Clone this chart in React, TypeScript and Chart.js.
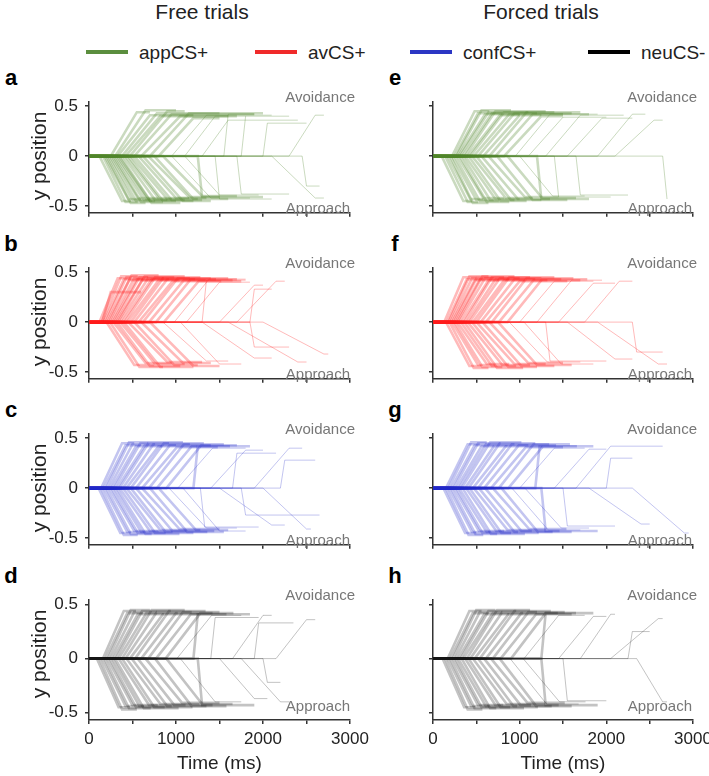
import { useEffect, useRef } from "react";
import { Chart, registerables } from "chart.js";

Chart.register(...registerables);

// one mouse trajectory: [start of movement (ms), arrival (ms), final y position, end of trial (ms)]
type Trial = [number, number, number, number];

const timeTicks = [0, 500, 1000, 1500, 2000, 2500, 3000];
const timeLabels = ["0", "", "1000", "", "2000", "", "3000"];
const posTicks = [-0.5, 0, 0.5];
const posLabels = ["-0.5", "0", "0.5"];

const conditionNames = ["appCS+", "avCS+", "confCS+", "neuCS-"];
const legendColors = ["#5b8e3e", "#f02a2a", "#2b36c4", "#000000"];
const traceColors = [
  "rgba(78,132,42,0.3)",
  "rgba(255,28,28,0.3)",
  "rgba(32,42,200,0.27)",
  "rgba(25,25,25,0.26)",
];
const columnTitles = ["Free trials", "Forced trials"];
const panelLetters = [
  ["a", "b", "c", "d"],
  ["e", "f", "g", "h"],
];

// ---- free trials ----
const freeAppUp: Trial[] = [
  [250, 550, 0.44, 700], [300, 650, 0.46, 1000], [330, 700, 0.41, 1200], [380, 780, 0.43, 1500],
  [420, 820, 0.4, 1700], [470, 900, 0.45, 1100], [520, 950, 0.42, 1900], [600, 1050, 0.4, 1600],
  [700, 1150, 0.43, 2000], [800, 1200, 0.38, 1500], [950, 1350, 0.41, 2100], [1100, 1450, 0.4, 1800],
  [1300, 1600, 0.36, 2400], [1550, 1600, 0.42, 1900], [1750, 1800, 0.4, 2300], [2000, 2050, 0.33, 2500],
  [2300, 2600, 0.41, 2700],
];
const freeAppDown: Trial[] = [
  [120, 380, -0.45, 480], [160, 420, -0.46, 560], [180, 450, -0.43, 600], [200, 480, -0.47, 650],
  [220, 500, -0.44, 700], [240, 540, -0.45, 760], [260, 560, -0.42, 800], [280, 600, -0.46, 850],
  [300, 630, -0.44, 900], [320, 660, -0.43, 950], [340, 700, -0.45, 1000], [360, 720, -0.47, 1050],
  [390, 760, -0.44, 1100], [420, 800, -0.42, 1150], [450, 850, -0.45, 1200], [480, 900, -0.43, 1250],
  [520, 950, -0.44, 1300], [570, 1000, -0.42, 1350], [620, 1080, -0.45, 1400], [680, 1150, -0.41, 1500],
  [750, 1200, -0.43, 1600], [850, 1300, -0.4, 1700], [950, 1400, -0.42, 1850], [1100, 1500, -0.39, 1950],
  [1250, 1300, -0.41, 2000], [1450, 1500, -0.43, 2100], [1700, 1750, -0.38, 2300], [2100, 2600, -0.42, 2700],
  [2450, 2500, -0.3, 2650],
];
const freeAvUp: Trial[] = [
  [120, 330, 0.44, 480], [150, 370, 0.46, 560], [170, 400, 0.43, 620], [190, 430, 0.45, 680],
  [210, 460, 0.42, 740], [230, 490, 0.47, 800], [250, 520, 0.44, 860], [270, 550, 0.43, 920],
  [290, 580, 0.45, 980], [310, 610, 0.42, 1040], [330, 640, 0.46, 1100], [350, 680, 0.44, 1160],
  [380, 720, 0.43, 1220], [410, 760, 0.45, 1280], [440, 800, 0.42, 1340], [480, 850, 0.44, 1400],
  [520, 900, 0.43, 1460], [570, 960, 0.41, 1520], [620, 1020, 0.44, 1600], [690, 1090, 0.42, 1650],
  [770, 1170, 0.43, 1700], [860, 1260, 0.41, 1750], [980, 1380, 0.43, 1800], [1120, 1500, 0.4, 1850],
  [1300, 1350, 0.42, 1800], [1500, 1900, 0.37, 2000], [1700, 2150, 0.41, 2250], [1850, 1900, 0.33, 2100],
  [150, 250, 0.3, 600],
];
const freeAvDown: Trial[] = [
  [200, 520, -0.43, 750], [240, 580, -0.45, 850], [280, 650, -0.41, 950], [320, 700, -0.44, 1050],
  [360, 760, -0.42, 1100], [400, 820, -0.45, 1200], [450, 900, -0.4, 1300], [520, 980, -0.43, 1250],
  [600, 1080, -0.41, 1400], [700, 1200, -0.44, 1500], [850, 1350, -0.39, 1600], [1050, 1500, -0.42, 1750],
  [1300, 1900, -0.36, 2100], [1600, 2400, -0.4, 2500], [1850, 1900, -0.25, 2300], [2000, 2700, -0.32, 2750],
];
const freeConfUp: Trial[] = [
  [140, 380, 0.45, 520], [170, 420, 0.43, 600], [200, 460, 0.46, 680], [230, 500, 0.44, 760],
  [260, 540, 0.42, 840], [290, 590, 0.45, 920], [320, 640, 0.43, 1000], [350, 690, 0.46, 1080],
  [390, 740, 0.44, 1160], [430, 800, 0.42, 1240], [480, 860, 0.45, 1320], [540, 930, 0.43, 1400],
  [610, 1010, 0.41, 1480], [690, 1090, 0.44, 1550], [780, 1180, 0.42, 1620], [890, 1290, 0.43, 1700],
  [1020, 1420, 0.4, 1800], [1200, 1250, 0.42, 1850], [1400, 1800, 0.38, 2000], [1650, 1700, 0.35, 2150],
  [1900, 2300, 0.4, 2450], [2200, 2250, 0.28, 2600],
];
const freeConfDown: Trial[] = [
  [110, 360, -0.45, 480], [140, 400, -0.47, 560], [170, 440, -0.44, 640], [200, 480, -0.46, 720],
  [230, 520, -0.43, 800], [260, 560, -0.45, 880], [290, 600, -0.44, 960], [320, 650, -0.46, 1040],
  [350, 700, -0.43, 1120], [390, 760, -0.45, 1200], [430, 820, -0.42, 1280], [480, 880, -0.44, 1360],
  [540, 960, -0.43, 1440], [610, 1040, -0.41, 1500], [700, 1130, -0.44, 1550], [800, 1230, -0.42, 1600],
  [920, 1350, -0.4, 1700], [1080, 1500, -0.43, 1800], [1280, 1330, -0.39, 1950], [1500, 2100, -0.37, 2250],
  [1750, 1800, -0.27, 2650], [2000, 2500, -0.41, 2550],
];
const freeNeuUp: Trial[] = [
  [160, 400, 0.44, 540], [190, 440, 0.42, 620], [220, 480, 0.45, 700], [250, 520, 0.43, 780],
  [280, 560, 0.41, 860], [310, 610, 0.44, 940], [340, 660, 0.42, 1020], [380, 720, 0.45, 1100],
  [420, 780, 0.43, 1180], [470, 850, 0.41, 1260], [530, 920, 0.44, 1340], [600, 1000, 0.42, 1420],
  [680, 1080, 0.43, 1500], [770, 1170, 0.41, 1580], [880, 1280, 0.42, 1660], [1010, 1410, 0.4, 1750],
  [1200, 1250, 0.41, 1850], [1400, 1450, 0.38, 1950], [1650, 2000, 0.4, 2100], [1900, 1950, 0.33, 2350],
  [2150, 2500, 0.36, 2600],
];
const freeNeuDown: Trial[] = [
  [90, 340, -0.45, 470], [120, 380, -0.47, 550], [150, 420, -0.44, 630], [180, 460, -0.46, 710],
  [210, 500, -0.43, 790], [240, 540, -0.45, 870], [270, 580, -0.44, 950], [300, 630, -0.46, 1030],
  [340, 690, -0.43, 1110], [380, 750, -0.45, 1190], [430, 820, -0.42, 1270], [490, 900, -0.44, 1350],
  [560, 980, -0.43, 1420], [650, 1070, -0.41, 1500], [760, 1180, -0.44, 1580], [890, 1300, -0.42, 1650],
  [1050, 1450, -0.4, 1750], [1250, 1300, -0.43, 1900], [1500, 1900, -0.37, 2050], [1750, 2200, -0.4, 2300],
  [2000, 2050, -0.22, 2200],
];

// ---- forced trials ----
const forcedAppUp: Trial[] = [
  [220, 480, 0.45, 650], [250, 520, 0.43, 800], [270, 560, 0.46, 900], [290, 600, 0.42, 1000],
  [310, 640, 0.44, 1100], [340, 680, 0.43, 1200], [370, 720, 0.45, 1300], [400, 770, 0.41, 1000],
  [430, 820, 0.44, 1400], [470, 880, 0.42, 1500], [520, 940, 0.43, 1600], [580, 1000, 0.41, 1250],
  [650, 1080, 0.44, 1700], [720, 1150, 0.42, 1800], [820, 1250, 0.4, 1500], [950, 1350, 0.42, 1900],
  [1100, 1500, 0.39, 2000], [1300, 1700, 0.41, 2200], [1550, 1950, 0.38, 2300], [1900, 2300, 0.42, 2450],
  [2100, 2550, 0.36, 2650],
];
const forcedAppDown: Trial[] = [
  [100, 350, -0.45, 450], [140, 400, -0.46, 520], [170, 430, -0.43, 580], [200, 460, -0.47, 640],
  [220, 500, -0.44, 700], [250, 540, -0.45, 760], [280, 580, -0.42, 820], [310, 620, -0.46, 880],
  [340, 660, -0.44, 940], [370, 720, -0.43, 1000], [410, 780, -0.45, 1080], [450, 840, -0.42, 1150],
  [500, 900, -0.44, 1250], [560, 980, -0.43, 1350], [640, 1060, -0.41, 1450], [740, 1150, -0.44, 1550],
  [860, 1260, -0.42, 1650], [1000, 1380, -0.4, 1750], [1200, 1250, -0.43, 1800], [1400, 1450, -0.41, 2050],
  [1650, 1700, -0.39, 2250], [2650, 2700, -0.43, 2700],
];
const forcedAvUp: Trial[] = [
  [130, 350, 0.45, 500], [160, 390, 0.43, 580], [180, 420, 0.46, 640], [200, 450, 0.44, 700],
  [220, 480, 0.42, 760], [240, 510, 0.45, 820], [260, 540, 0.43, 880], [280, 570, 0.46, 940],
  [300, 600, 0.44, 1000], [330, 640, 0.42, 1060], [360, 680, 0.45, 1120], [390, 720, 0.43, 1180],
  [420, 770, 0.44, 1250], [460, 820, 0.42, 1320], [500, 880, 0.45, 1400], [550, 940, 0.43, 1480],
  [610, 1000, 0.41, 1550], [680, 1080, 0.44, 1620], [760, 1160, 0.42, 1700], [860, 1260, 0.43, 1780],
  [1000, 1400, 0.41, 1850], [1200, 1600, 0.42, 1950], [1450, 1850, 0.39, 2100], [1750, 2150, 0.41, 2300],
];
const forcedAvDown: Trial[] = [
  [150, 420, -0.44, 560], [190, 470, -0.46, 640], [220, 520, -0.43, 720], [250, 570, -0.45, 800],
  [280, 620, -0.42, 880], [320, 680, -0.44, 960], [360, 740, -0.46, 1040], [400, 800, -0.43, 1120],
  [450, 870, -0.45, 1200], [500, 940, -0.42, 1300], [570, 1020, -0.44, 1400], [650, 1100, -0.41, 1500],
  [750, 1200, -0.43, 1600], [880, 1320, -0.4, 1700], [1050, 1480, -0.42, 1850], [1300, 1350, -0.39, 2000],
  [1550, 2100, -0.37, 2300], [1900, 2600, -0.42, 2700], [2300, 2350, -0.3, 2650],
];
const forcedConfUp: Trial[] = [
  [150, 400, 0.44, 540], [180, 440, 0.46, 620], [210, 480, 0.43, 700], [240, 520, 0.45, 780],
  [270, 560, 0.42, 860], [300, 610, 0.44, 940], [330, 660, 0.46, 1020], [370, 710, 0.43, 1100],
  [410, 770, 0.45, 1180], [460, 840, 0.42, 1260], [520, 910, 0.44, 1340], [590, 990, 0.43, 1420],
  [670, 1070, 0.41, 1500], [760, 1160, 0.44, 1580], [870, 1270, 0.42, 1660], [1000, 1400, 0.4, 1750],
  [1180, 1230, 0.42, 1850], [1400, 1800, 0.39, 2000], [1650, 2050, 0.42, 2650], [2000, 2050, 0.3, 2300],
];
const forcedConfDown: Trial[] = [
  [120, 370, -0.45, 500], [150, 410, -0.47, 580], [180, 450, -0.44, 660], [210, 490, -0.46, 740],
  [240, 530, -0.43, 820], [270, 570, -0.45, 900], [300, 620, -0.44, 980], [340, 670, -0.46, 1060],
  [380, 730, -0.43, 1140], [420, 790, -0.45, 1220], [470, 860, -0.42, 1300], [530, 940, -0.44, 1380],
  [600, 1020, -0.43, 1460], [690, 1110, -0.41, 1540], [790, 1210, -0.44, 1600], [910, 1330, -0.42, 1700],
  [1060, 1480, -0.4, 1800], [1250, 1300, -0.43, 1900], [1500, 1550, -0.38, 2100], [1800, 2400, -0.36, 2500],
  [2300, 2900, -0.45, 2950],
];
const forcedNeuUp: Trial[] = [
  [170, 420, 0.44, 560], [200, 460, 0.42, 640], [230, 500, 0.45, 720], [260, 540, 0.43, 800],
  [290, 590, 0.41, 880], [320, 640, 0.44, 960], [350, 690, 0.42, 1040], [390, 740, 0.45, 1120],
  [430, 800, 0.43, 1200], [480, 870, 0.41, 1280], [540, 940, 0.44, 1360], [610, 1020, 0.42, 1440],
  [690, 1100, 0.43, 1520], [780, 1190, 0.41, 1600], [900, 1300, 0.42, 1650], [1050, 1450, 0.4, 1750],
  [1250, 1300, 0.42, 1850], [1450, 1850, 0.39, 2000], [1700, 2050, 0.41, 2100], [2050, 2600, 0.37, 2650],
  [2250, 2300, 0.25, 2500],
];
const forcedNeuDown: Trial[] = [
  [110, 360, -0.45, 490], [140, 400, -0.47, 570], [170, 440, -0.44, 650], [200, 480, -0.46, 730],
  [230, 520, -0.43, 810], [260, 560, -0.45, 890], [290, 610, -0.44, 970], [330, 660, -0.46, 1050],
  [370, 720, -0.43, 1130], [410, 780, -0.45, 1210], [460, 850, -0.42, 1290], [520, 930, -0.44, 1370],
  [590, 1010, -0.43, 1450], [670, 1090, -0.41, 1520], [770, 1190, -0.44, 1600], [890, 1310, -0.42, 1680],
  [1040, 1460, -0.4, 1760], [1250, 1300, -0.43, 1900], [1500, 1550, -0.39, 2000], [2350, 2650, -0.4, 2700],
];

const panelTrials: Trial[][][] = [
  [
    [...freeAppUp, ...freeAppDown],
    [...freeAvUp, ...freeAvDown],
    [...freeConfUp, ...freeConfDown],
    [...freeNeuUp, ...freeNeuDown],
  ],
  [
    [...forcedAppUp, ...forcedAppDown],
    [...forcedAvUp, ...forcedAvDown],
    [...forcedConfUp, ...forcedConfDown],
    [...forcedNeuUp, ...forcedNeuDown],
  ],
];

// layout (page pixels)
const FONT = "'Liberation Sans', Arial, Helvetica, sans-serif";
const plotLeft = [89, 433];
const plotWidth = [261, 260];
const yAxisWidth = [60, 20];
const areaTop0 = 91;
const rowStep = 166;
const areaHeight = 131;
const padTop = 6;
const padRight = 26;

function trialPath([onset, arrive, y, end]: Trial) {
  return [
    { x: 0, y: 0 },
    { x: onset, y: 0 },
    { x: arrive, y },
    { x: end, y },
  ];
}

function TrialPanel({ col, row }: { col: number; row: number }) {
  const ref = useRef<HTMLCanvasElement>(null);
  const bottom = row === 3;
  const xH = bottom ? 55 : 8;
  const width = yAxisWidth[col] + plotWidth[col] + padRight;
  const height = padTop + areaHeight + xH;
  const left = plotLeft[col] - yAxisWidth[col];
  const top = areaTop0 + rowStep * row - padTop;

  useEffect(() => {
    if (!ref.current) return;
    const tickFont = { family: FONT, size: 17 };
    const chart = new Chart(ref.current, {
      type: "line",
      data: {
        datasets: panelTrials[col][row].map((t) => ({
          data: trialPath(t),
          borderColor: traceColors[row],
          // the bulk of quick responses is drawn heavier, the late stragglers thin
          borderWidth: t[1] <= 1300 ? 2.6 : 1,
          borderJoinStyle: "miter",
          pointRadius: 0,
          tension: 0,
          fill: false,
        })),
      },
      options: {
        animation: false,
        responsive: false,
        maintainAspectRatio: false,
        events: [],
        layout: { padding: { top: padTop, right: padRight, left: 0, bottom: 0 } },
        plugins: { legend: { display: false }, tooltip: { enabled: false } },
        scales: {
          x: {
            type: "linear",
            min: 0,
            max: 3000,
            afterFit: (s: any) => {
              s.height = xH;
            },
            afterBuildTicks: (s: any) => {
              s.ticks = timeTicks.map((v) => ({ value: v }));
            },
            grid: { drawOnChartArea: false, drawTicks: true, tickLength: 4, color: "#333", lineWidth: 1.5 },
            border: { display: true, color: "#333", width: 1.5 },
            ticks: {
              display: bottom,
              padding: 5,
              maxRotation: 0,
              autoSkip: false,
              color: "#222",
              font: tickFont,
              callback: (_v: any, i: number) => timeLabels[i],
            },
            title: {
              display: bottom,
              text: "Time (ms)",
              color: "#222",
              font: { family: FONT, size: 19 },
              padding: 0,
            },
          },
          y: {
            type: "linear",
            min: -0.568,
            max: 0.54,
            afterFit: (s: any) => {
              s.width = yAxisWidth[col];
            },
            afterBuildTicks: (s: any) => {
              s.ticks = posTicks.map((v) => ({ value: v }));
            },
            grid: { drawOnChartArea: false, drawTicks: true, tickLength: 4, color: "#333", lineWidth: 1.5 },
            border: { display: true, color: "#333", width: 1.5 },
            ticks: {
              padding: 7,
              autoSkip: false,
              color: "#222",
              font: tickFont,
              callback: (_v: any, i: number) => (col === 0 ? posLabels[i] : ""),
            },
          },
        },
      },
    } as any);
    return () => chart.destroy();
  }, [col, row]);

  return (
    <canvas
      ref={ref}
      width={width}
      height={height}
      style={{ position: "absolute", left, top, width, height }}
    />
  );
}

function Label({ x, y, text, size, color = "#222", weight = 400, anchor = "center", rotate = 0 }: any) {
  const tx = anchor === "right" ? "-100%" : anchor === "left" ? "0" : "-50%";
  return (
    <div
      style={{
        position: "absolute",
        left: x,
        top: y,
        transform: `translate(${tx}, -50%) rotate(${rotate}deg)`,
        transformOrigin: anchor === "center" ? "50% 50%" : undefined,
        fontFamily: FONT,
        fontSize: size,
        fontWeight: weight,
        lineHeight: `${size}px`,
        color,
        whiteSpace: "nowrap",
        zIndex: 2,
      }}
    >
      {text}
    </div>
  );
}

export default function App() {
  const legendX = [86, 255, 410, 588];
  const rows = [0, 1, 2, 3];
  return (
    <div
      style={{
        position: "absolute",
        left: 0,
        top: 0,
        width: 709,
        height: 776,
        overflow: "hidden",
        background: "#fff",
      }}
    >
      <Label x={202} y={11} text={columnTitles[0]} size={21} />
      <Label x={541} y={11} text={columnTitles[1]} size={21} />

      {conditionNames.map((name, i) => (
        <div key={name}>
          <div
            style={{
              position: "absolute",
              left: legendX[i],
              top: 50,
              width: 42,
              height: 4,
              background: legendColors[i],
            }}
          />
          <Label x={legendX[i] + 53} y={52} text={name} size={19} anchor="left" />
        </div>
      ))}

      {[0, 1].map((col) =>
        rows.map((row) => (
          <div key={`${col}-${row}`}>
            <TrialPanel col={col} row={row} />
            <Label
              x={col === 0 ? 11 : 395}
              y={78 + rowStep * row}
              text={panelLetters[col][row]}
              size={22}
              weight={700}
              color="#000"
            />
            <Label
              x={col === 0 ? 355 : 697}
              y={96 + rowStep * row}
              text="Avoidance"
              size={15}
              color="#777"
              anchor="right"
            />
            <Label
              x={col === 0 ? 350 : 692}
              y={207 + rowStep * row}
              text="Approach"
              size={15}
              color="#777"
              anchor="right"
            />
          </div>
        ))
      )}

      {rows.map((row) => (
        <Label key={row} x={38} y={156 + rowStep * row} text="y position" size={21} rotate={-90} />
      ))}
    </div>
  );
}
